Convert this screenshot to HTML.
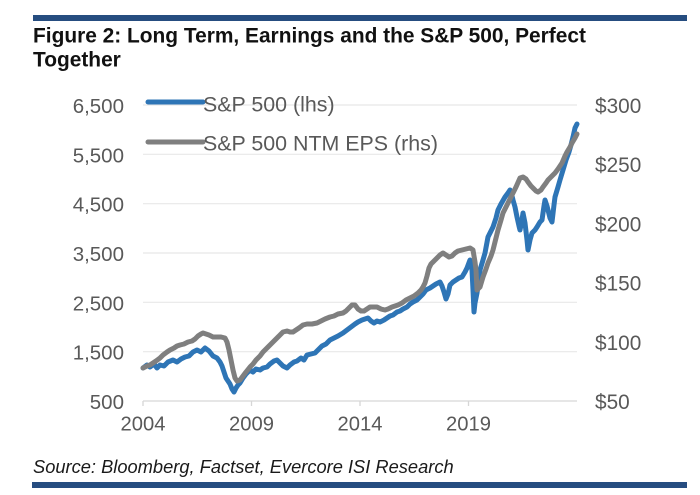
<!DOCTYPE html>
<html>
<head>
<meta charset="utf-8">
<style>
  html,body{margin:0;padding:0;background:#fff;}
  svg{display:block;}
  text{font-family:"Liberation Sans",Arial,sans-serif;}
</style>
</head>
<body>
<svg width="700" height="495" viewBox="0 0 700 495" xmlns="http://www.w3.org/2000/svg">
  <rect x="0" y="0" width="700" height="495" fill="#ffffff"/>
  <!-- top bar -->
  <rect x="33" y="15" width="654" height="6" fill="#264d80"/>
  <!-- title -->
  <text x="33" y="42.5" font-size="20.9" font-weight="bold" fill="#111">Figure 2: Long Term, Earnings and the S&amp;P 500, Perfect</text>
  <text x="33" y="66.5" font-size="20.9" font-weight="bold" fill="#111">Together</text>

  <!-- gridlines -->
  <g stroke="#e8e8e8" stroke-width="1.2">
    <line x1="143" y1="105" x2="577" y2="105"/>
    <line x1="143" y1="154.3" x2="577" y2="154.3"/>
    <line x1="143" y1="203.7" x2="577" y2="203.7"/>
    <line x1="143" y1="253" x2="577" y2="253"/>
    <line x1="143" y1="302.3" x2="577" y2="302.3"/>
    <line x1="143" y1="351.7" x2="577" y2="351.7"/>
  </g>
  <!-- x axis -->
  <g stroke="#d6d6d6" stroke-width="1.3">
    <line x1="143" y1="401" x2="577" y2="401"/>
    <line x1="143" y1="401" x2="143" y2="406"/>
    <line x1="251.5" y1="401" x2="251.5" y2="406"/>
    <line x1="360" y1="401" x2="360" y2="406"/>
    <line x1="468.5" y1="401" x2="468.5" y2="406"/>
  </g>

  <!-- left labels -->
  <g font-size="20.5" fill="#595959" text-anchor="end">
    <text x="124" y="113">6,500</text>
    <text x="124" y="162.3">5,500</text>
    <text x="124" y="211.7">4,500</text>
    <text x="124" y="261">3,500</text>
    <text x="124" y="310.3">2,500</text>
    <text x="124" y="359.7">1,500</text>
    <text x="124" y="409">500</text>
  </g>
  <!-- right labels -->
  <g font-size="20.8" fill="#595959">
    <text x="595" y="113">$300</text>
    <text x="595" y="172.2">$250</text>
    <text x="595" y="231.4">$200</text>
    <text x="595" y="290.6">$150</text>
    <text x="595" y="349.8">$100</text>
    <text x="595" y="409">$50</text>
  </g>
  <!-- x labels -->
  <g font-size="20.2" fill="#595959" text-anchor="middle">
    <text x="143" y="430.5">2004</text>
    <text x="251.5" y="430.5">2009</text>
    <text x="360" y="430.5">2014</text>
    <text x="468.5" y="430.5">2019</text>
  </g>

  <!-- blue series -->
  <polyline fill="none" stroke="#2e75b6" stroke-width="5" stroke-linejoin="round" stroke-linecap="round"
    points="143,368 147,365 150,367 154,364 157,368 160,365 164,366 168,362 173,360 177,362 181,359 185,357 189,356 193,352 197,350 201,352 205,348 209,351 213,356 217,358 220,362 222,366 224,372 226,378 228,381 230,384 232,389 234,392 236,388 238,385 240,383 243,378 246,374 250,370 253,372 256,369 260,370 263,368 267,367 270,364 274,361 277,360 280,363 283,366 287,368 290,365 294,362 297,361 301,358 304,360 307,355 311,354 315,353 318,350 322,346 326,344 330,340 334,338 338,336 343,333 347,330 351,327 355,324 358,322 362,320 365,319 368,318 371,321 374,323 377,321 380,322 384,320 387,318 390,316 393,315 397,312 400,311 403,309 407,307 410,304 413,302 417,300 420,297 423,294 426,290 430,288 433,286 436,284 440,282 442,286 444,292 446,299 448,294 450,285 453,282 456,280 459,278 462,277 465,272 467,268 470,260 472,270 473,290 474,312 475,303 477,293 480,270 483,260 485,253 488,237 490,233 493,227 496,218 498,210 501,204 505,197 508,193 510,190 512,196 513,200 515,207 517,217 519,226 520,230 522,220 523,213 525,223 527,240 528,250 530,240 532,233 535,230 537,227 540,222 542,220 544,206 545,200 547,206 548,210 550,218 552,222 554,205 555,197 558,187 560,180 563,170 566,160 569,152 571,145 573,137 575,128 577,124"/>

  <!-- gray series -->
  <polyline fill="none" stroke="#7f7f7f" stroke-width="5" stroke-linejoin="round" stroke-linecap="round"
    points="143,368 147,366 150,365 153,363 156,361 160,358 163,355 167,352 170,350 174,348 177,346 180,345 184,344 188,342 192,341 195,339 198,336 201,334 203,333 206,334 209,335 213,337 217,337 221,337 225,338 227,342 229,350 231,360 233,370 235,378 237,381 240,380 243,376 246,372 250,367 253,364 256,360 260,356 263,352 267,348 270,345 274,341 277,338 280,335 283,332 287,331 290,332 293,332 296,330 299,328 303,325 307,324 312,324 317,323 321,321 325,319 330,317 334,316 338,314 343,313 346,311 349,308 352,305 355,305 358,309 361,311 364,311 367,309 370,307 374,307 377,307 381,309 385,310 388,309 392,307 395,306 398,305 402,303 406,300 410,298 414,296 418,293 421,290 423,287 425,283 427,276 429,268 431,264 434,261 437,258 440,255 443,253 446,255 449,257 452,256 455,253 458,251 462,250 466,249 470,248 473,250 475,262 476,270 477,290 480,287 483,277 486,269 488,263 491,256 493,250 496,238 498,230 501,220 503,213 506,207 508,203 511,197 513,193 516,187 520,178 523,177 526,179 528,182 531,186 533,188 536,191 538,192 541,190 543,187 546,183 548,180 552,176 555,173 558,169 562,163 565,156 567,152 570,147 572,143 575,138 577,134"/>

  <!-- legend -->
  <line x1="148" y1="102" x2="203" y2="102" stroke="#2e75b6" stroke-width="5" stroke-linecap="round"/>
  <text x="203" y="111.5" font-size="21.4" fill="#595959">S&amp;P 500 (lhs)</text>
  <line x1="148" y1="142" x2="203" y2="142" stroke="#7f7f7f" stroke-width="5" stroke-linecap="round"/>
  <text x="203" y="150.5" font-size="21.4" fill="#595959">S&amp;P 500 NTM EPS (rhs)</text>

  <!-- source -->
  <text x="33" y="473" font-size="18.3" font-style="italic" fill="#1a1a1a">Source: Bloomberg, Factset, Evercore ISI Research</text>
  <!-- bottom bar -->
  <rect x="32" y="482" width="655" height="6" fill="#264d80"/>
</svg>
</body>
</html>
